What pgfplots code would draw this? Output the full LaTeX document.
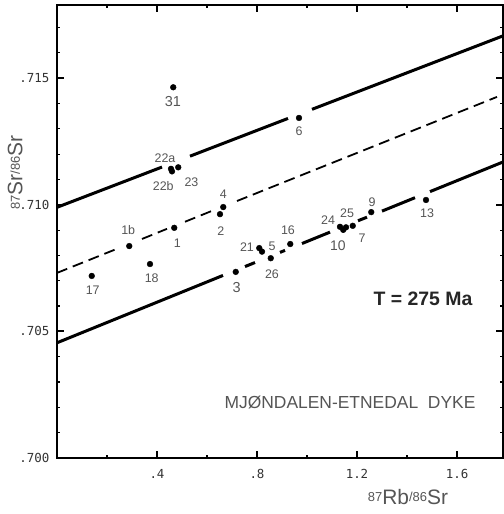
\documentclass[border=0pt]{standalone}
\usepackage{fontspec}
\setmainfont{Liberation Sans}
\newfontfamily\monofont{DejaVu Sans Mono}
\usepackage{pgfplots}
\pgfplotsset{compat=1.18}
\definecolor{lab}{HTML}{555555}
\definecolor{tlab}{HTML}{333333}
\newcommand{\sm}[1]{\raisebox{2.5bp}{\fontsize{13}{13}\selectfont #1}}
\newcommand{\bg}{\fontsize{21}{21}\selectfont}
\newcommand{\lb}{\fontsize{12.5}{12.5}\selectfont}
\begin{document}
\begin{tikzpicture}
\path[use as bounding box] (-57bp,-56bp) rectangle (447bp,458bp);
\begin{axis}[
  scale only axis, width=446bp, height=453bp,
  xmin=0, xmax=1.784, ymin=0.700, ymax=0.71789,
  axis line style={line width=2.5bp},
  tick align=inside,
  xtick={0.4,0.8,1.2,1.6}, xticklabels={.4,.8,1.2,1.6},
  ytick={0.700,0.705,0.710,0.715}, yticklabels={.700,.705,.710,.715},
  minor xtick={0.2,0.6,1.0,1.4},
  minor ytick={0.701,0.702,0.703,0.704,0.706,0.707,0.708,0.709,0.711,0.712,0.713,0.714,0.716,0.717},
  major tick length=7bp, minor tick length=3.5bp,
  major tick style={line width=1.8bp, black},
  minor tick style={line width=1.2bp, black},
  ticklabel style={font=\monofont\fontsize{12.5}{12.5}\selectfont, text=tlab},
  xticklabel style={yshift=-8bp},
  yticklabel style={xshift=-4bp},
  xlabel={\sm{87}\bg Rb\sm{/86}\bg Sr},
  ylabel={\sm{87}\bg Sr\sm{/86}\bg Sr},
  x label style={at={(axis description cs:0.787,-0.0861)}, anchor=center, text=lab},
  y label style={at={(axis description cs:-0.094,0.63)}, anchor=center, text=lab},
]
% upper isochron
\addplot[black, line width=3bp] coordinates {(0,0.7099) (0.42,0.71149)};
\addplot[black, line width=3bp] coordinates {(0.532,0.71192) (0.924,0.71341)};
\addplot[black, line width=3bp] coordinates {(1.02,0.71377) (1.784,0.71667)};
% lower isochron
\addplot[black, line width=3bp] coordinates {(0,0.70455) (0.664,0.70721)};
\addplot[black, line width=3bp] coordinates {(0.752,0.70756) (0.792,0.70772)};
\addplot[black, line width=3bp] coordinates {(0.892,0.70812) (0.912,0.7082)};
\addplot[black, line width=3bp] coordinates {(0.98,0.70847) (1.092,0.70892)};
\addplot[black, line width=3bp] coordinates {(1.204,0.70937) (1.24,0.70951)};
\addplot[black, line width=3bp] coordinates {(1.30,0.70975) (1.432,0.71028)};
\addplot[black, line width=3bp] coordinates {(1.492,0.71052) (1.784,0.71169)};
% dashed reference line
\addplot[black, line width=1.8bp, dash pattern=on 11bp off 6bp] coordinates {(0,0.70731) (0.252,0.70831)};
\addplot[black, line width=1.8bp, dash pattern=on 11bp off 6bp] coordinates {(0.34,0.70865) (0.44,0.70905)};
\addplot[black, line width=1.8bp, dash pattern=on 11bp off 6bp] coordinates {(0.512,0.70933) (0.62,0.70976)};
\addplot[black, line width=1.8bp, dash pattern=on 11bp off 6bp] coordinates {(0.72,0.71015) (1.76,0.71426)};
% samples
\addplot[only marks, mark=*, mark size=2.9bp, black] coordinates {
(0.465,0.71464) (0.456,0.71142) (0.460,0.71132) (0.485,0.71148)
(0.665,0.70991) (0.652,0.70963) (0.469,0.70909) (0.289,0.70837)
(0.372,0.70766) (0.139,0.70719) (0.715,0.70735) (0.809,0.70829)
(0.820,0.70815) (0.855,0.70789) (0.933,0.70845) (1.132,0.70913)
(1.145,0.70901) (1.156,0.70911) (1.183,0.70917) (1.257,0.70971)
(1.476,0.71019) (0.968,0.71343)};
% sample labels
\begin{scope}[every node/.style={text=lab, inner sep=0pt, font=\lb}]
\node at (axis cs:0.464,0.71406) {\fontsize{14.5}{14.5}\selectfont 31};
\node at (axis cs:0.432,0.71185) {22a};
\node at (axis cs:0.425,0.71075) {22b};
\node at (axis cs:0.538,0.71088) {23};
\node at (axis cs:0.968,0.71292) {6};
\node at (axis cs:0.285,0.70901) {1b};
\node at (axis cs:0.481,0.70848) {1};
\node at (axis cs:0.655,0.70897) {2};
\node at (axis cs:0.665,0.71040) {4};
\node at (axis cs:0.143,0.70664) {17};
\node at (axis cs:0.379,0.70709) {18};
\node at (axis cs:0.719,0.70675) {\fontsize{14.5}{14.5}\selectfont 3};
\node at (axis cs:0.760,0.70834) {21};
\node at (axis cs:0.860,0.70838) {5};
\node at (axis cs:0.860,0.70727) {26};
\node at (axis cs:0.924,0.70901) {16};
\node at (axis cs:1.084,0.70940) {24};
\node at (axis cs:1.124,0.70838) {\fontsize{14}{14}\selectfont 10};
\node at (axis cs:1.160,0.70968) {25};
\node at (axis cs:1.220,0.70869) {7};
\node at (axis cs:1.260,0.71012) {9};
\node at (axis cs:1.480,0.70968) {13};
\end{scope}
\node[text=black!85, font=\bfseries\fontsize{19.5}{19.5}\selectfont, inner sep=0pt] at (axis cs:1.464,0.70629) {T = 275 Ma};
\node[text=lab, font=\fontsize{17.5}{17.5}\selectfont, inner sep=0pt] at (axis cs:1.172,0.70218) {MJØNDALEN-ETNEDAL\ \ DYKE};
\end{axis}
\end{tikzpicture}
\end{document}
